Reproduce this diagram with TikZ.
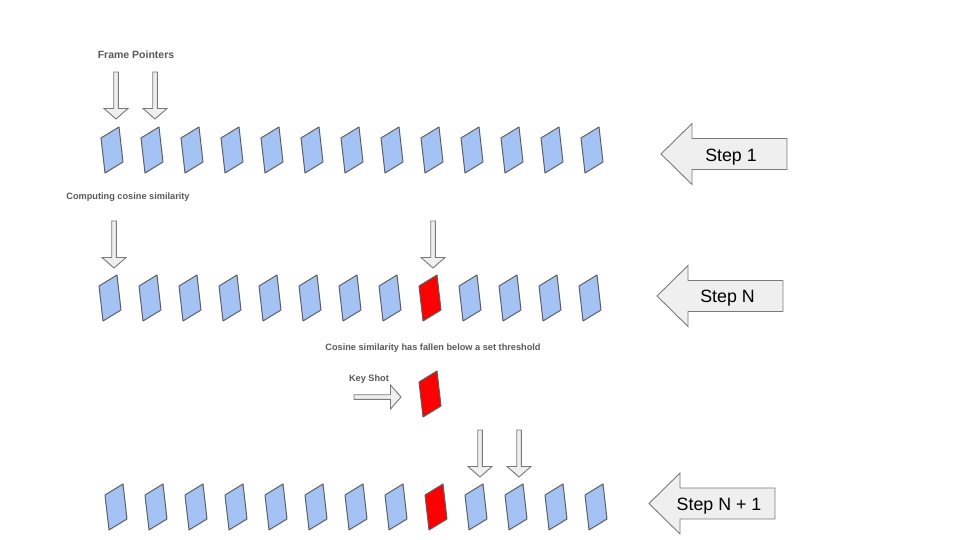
\documentclass[tikz,border=0pt]{standalone}
\usepackage{fontspec}
\setmainfont{Liberation Sans}
\usepackage{tikz}
\usetikzlibrary{positioning}
\definecolor{tileblue}{HTML}{A4C2F4}
\definecolor{keyred}{HTML}{FF0000}
\definecolor{edgegray}{HTML}{5F5F5F}
\definecolor{arrowgray}{HTML}{7A7A7A}
\definecolor{arrowfill}{HTML}{EFEFEF}
\definecolor{labelgray}{HTML}{595959}
\tikzstyle{tile} = [draw=edgegray, line width=1pt, fill=tileblue, line join=round]
\tikzstyle{keytile} = [tile, fill=keyred]
\tikzstyle{blockarrow} = [draw=arrowgray, line width=0.9pt, fill=arrowfill, line join=miter]
\tikzstyle{caption} = [text=labelgray, font=\bfseries\fontsize{9.2}{11}\selectfont, inner sep=0pt, anchor=base]
\tikzstyle{steplabel} = [text=black, font=\fontsize{17.8}{20}\selectfont, inner sep=0pt, anchor=base]
\tikzset{
  frame/.pic={\path[pic actions] (-11,-12) -- (7,-23) -- (11,12) -- (-7,23) -- cycle;},
  pointer/.pic={\path[blockarrow] (-2.3,-47) -- (2.3,-47) -- (2.3,-10.5) -- (12,-10.5) -- (0,0) -- (-12,-10.5) -- (-2.3,-10.5) -- cycle;},
  steparrow/.pic={\path[blockarrow] (0,0) -- (31,-30.5) -- (31,-15.5) -- (126,-15.5) -- (126,15.5) -- (31,15.5) -- (31,30.5) -- cycle;}
}

\begin{document}
\begin{tikzpicture}[x=1pt, y=-1pt]
\useasboundingbox (0,0) rectangle (960,540);

% step 1 =============================
\node[caption, font=\bfseries\fontsize{10.5}{12}\selectfont] (pointers) at (136,58.3) {Frame Pointers};
\pic at (116,119) {pointer};
\pic at (155,119) {pointer};

\pic[tile] at (112,150) {frame};
\pic[tile] at (152,150) {frame};
\pic[tile] at (192,150) {frame};
\pic[tile] at (232,150) {frame};
\pic[tile] at (272,150) {frame};
\pic[tile] at (312,150) {frame};
\pic[tile] at (352,150) {frame};
\pic[tile] at (392,150) {frame};
\pic[tile] at (432,150) {frame};
\pic[tile] at (472,150) {frame};
\pic[tile] at (512,150) {frame};
\pic[tile] at (552,150) {frame};
\pic[tile] at (592,150) {frame};

\pic at (661,154) {steparrow};
\node[steplabel] (step1) at (731,161) {Step 1};

% step N =============================
\node[caption] (computing) at (128,200) {Computing cosine similarity};
\pic at (114,268) {pointer};
\pic at (433,268) {pointer};

\pic[tile] at (110,298) {frame};
\pic[tile] at (150,298) {frame};
\pic[tile] at (190,298) {frame};
\pic[tile] at (230,298) {frame};
\pic[tile] at (270,298) {frame};
\pic[tile] at (310,298) {frame};
\pic[tile] at (350,298) {frame};
\pic[tile] at (390,298) {frame};
\pic[keytile] at (430,298) {frame};
\pic[tile] at (470,298) {frame};
\pic[tile] at (510,298) {frame};
\pic[tile] at (550,298) {frame};
\pic[tile] at (590,298) {frame};

\pic at (657,296) {steparrow};
\node[steplabel] (stepN) at (727.5,302.7) {Step N};

% key shot ===========================
\node[caption] (threshold) at (433,350) {Cosine similarity has fallen below a set threshold};
\node[caption] (keyshot) at (369,381.6) {Key Shot};
\pic[rotate=90] at (401,397) {pointer};
\pic[keytile] at (430,394) {frame};

% step N + 1 =========================
\pic at (480,477) {pointer};
\pic at (519,477) {pointer};

\pic[tile] at (116,507) {frame};
\pic[tile] at (156,507) {frame};
\pic[tile] at (196,507) {frame};
\pic[tile] at (236,507) {frame};
\pic[tile] at (276,507) {frame};
\pic[tile] at (316,507) {frame};
\pic[tile] at (356,507) {frame};
\pic[tile] at (396,507) {frame};
\pic[keytile] at (436,507) {frame};
\pic[tile] at (476,507) {frame};
\pic[tile] at (516,507) {frame};
\pic[tile] at (556,507) {frame};
\pic[tile] at (596,507) {frame};

\pic at (649,503.5) {steparrow};
\node[steplabel] (stepN1) at (719,510) {Step N + 1};

\end{tikzpicture}
\end{document}
